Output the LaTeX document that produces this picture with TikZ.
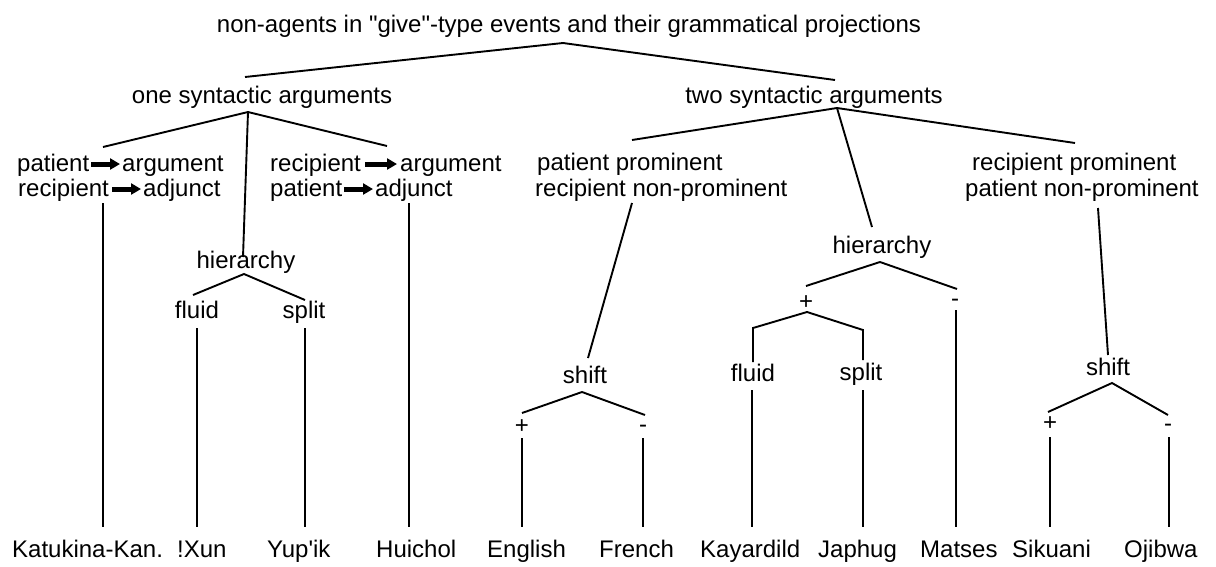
\documentclass[tikz,border=0pt]{standalone}
\usepackage{fontspec}
\setmainfont{Liberation Sans}[Ligatures=TeXOff]
\usetikzlibrary{arrows.meta,calc}
\begin{document}
\begin{tikzpicture}[x=1pt,y=-1pt,
  lbl/.style={inner sep=0pt, anchor=base, font=\fontsize{24}{28}\selectfont},
  lblw/.style={inner sep=0pt, anchor=base west, font=\fontsize{24}{28}\selectfont},
  sgn/.style={inner sep=0pt, anchor=center, font=\fontsize{24}{28}\selectfont},
  br/.style={line width=1.9pt},
  vl/.style={line width=1.5pt},
  fat/.style={line width=5pt,-{Triangle[length=10pt,width=11pt]}},
]
\useasboundingbox[fill=white] (0,0) rectangle (1216,566);
% level 0
\node[lbl] (title) at (569,32) {non-agents in "give"-type events and their grammatical projections};
\coordinate (t0) at (563,43);
\coordinate (t1) at (245,77);
\coordinate (t2) at (835,80);
\draw[br] (t1) -- (t0) -- (t2);
% level 1
\node[lbl] (one) at (262,103) {one syntactic arguments};
\node[lbl] (two) at (814,103) {two syntactic arguments};
% left subtree
\coordinate (o0) at (248,112);
\coordinate (o1) at (103,147);
\coordinate (o2) at (387,146);
\coordinate (o3) at (243,257);
\draw[br] (o1) -- (o0) -- (o2);
\draw[br] (o0) -- (o3);
\node[lblw] (pa1) at (17,171) {patient};
\node[lblw] (ar1) at (122,171) {argument};
\node[lblw] (re1) at (18,196) {recipient};
\node[lblw] (ad1) at (143,196) {adjunct};
\draw[fat] ($(pa1.base east)+(2,-7)$) -- ($(ar1.base west)+(-2,-7)$);
\draw[fat] ($(re1.base east)+(3,-7)$) -- ($(ad1.base west)+(-2,-7)$);
\node[lblw] (re2) at (270,171) {recipient};
\node[lblw] (ar2) at (400,171) {argument};
\node[lblw] (pa2) at (270,196) {patient};
\node[lblw] (ad2) at (375,196) {adjunct};
\draw[fat] ($(re2.base east)+(4,-7)$) -- ($(ar2.base west)+(-3,-7)$);
\draw[fat] ($(pa2.base east)+(2,-7)$) -- ($(ad2.base west)+(-2,-7)$);
% hierarchy left
\node[lbl] (hL) at (246,268) {hierarchy};
\coordinate (hL0) at (244,274);
\coordinate (hL1) at (193,295);
\coordinate (hL2) at (305,300);
\draw[br] (hL1) -- (hL0) -- (hL2);
\node[lbl] (fl1) at (197,318) {fluid};
\node[lbl] (sp1) at (304,318) {split};
% right subtree
\coordinate (w0) at (837,108);
\coordinate (w1) at (632,140);
\coordinate (w2) at (872,227);
\coordinate (w3) at (1075,143);
\draw[br] (w1) -- (w0) -- (w3);
\draw[br] (w0) -- (w2);
\node[lblw] (pp) at (537,170) {patient prominent};
\node[lblw] (rn) at (535,196) {recipient non-prominent};
\node[lblw] (rp) at (972,170) {recipient prominent};
\node[lblw] (pn) at (965,196) {patient non-prominent};
% shift left
\coordinate (g1) at (632,203);
\node[lbl] (sL) at (585,383) {shift};
\draw[br] (g1) -- (588,358);
\coordinate (sL0) at (582,392);
\coordinate (sL1) at (522,413);
\coordinate (sL2) at (645,415);
\draw[br] (sL1) -- (sL0) -- (sL2);
\node[sgn] (sLp) at (522,427) {+};
\node[sgn] (sLm) at (643,429) {-};
% hierarchy right
\node[lbl] (hR) at (882,253) {hierarchy};
\coordinate (hR0) at (880,262);
\coordinate (hR1) at (806,286);
\coordinate (hR2) at (957,289);
\draw[br] (hR1) -- (hR0) -- (hR2);
\node[sgn] (hRp) at (806,303) {+};
\node[sgn] (hRm) at (955,303) {-};
\coordinate (pl0) at (807,312);
\coordinate (pl1) at (753,328);
\coordinate (pl2) at (863,330);
\draw[br] (753,362) -- (pl1) -- (pl0) -- (pl2) -- (863,360);
\node[lbl] (fl2) at (753,381) {fluid};
\node[lbl] (sp2) at (861,380) {split};
% shift right
\coordinate (g2) at (1098,208);
\node[lbl] (sR) at (1108,375) {shift};
\draw[br] (g2) -- (1108,355);
\coordinate (sR0) at (1112,383);
\coordinate (sR1) at (1048,412);
\coordinate (sR2) at (1168,415);
\draw[br] (sR1) -- (sR0) -- (sR2);
\node[sgn] (sRp) at (1050,424) {+};
\node[sgn] (sRm) at (1168,428) {-};
% bottom labels
\node[lblw] (kat) at (12,557) {Katukina-Kan.};
\node[lblw] (xun) at (177,557) {!Xun};
\node[lblw] (yup) at (267,557) {Yup'ik};
\node[lblw] (hui) at (376,557) {Huichol};
\node[lblw] (eng) at (487,557) {English};
\node[lblw] (fre) at (599,557) {French};
\node[lblw] (kay) at (700,557) {Kayardild};
\node[lblw] (jap) at (818,557) {Japhug};
\node[lblw] (mat) at (920,557) {Matses};
\node[lblw] (sik) at (1012,557) {Sikuani};
\node[lblw] (oji) at (1124,557) {Ojibwa};
% verticals
\draw[vl] (103,203) -- (103,527);
\draw[vl] (409,203) -- (409,527);
\draw[vl] (197,328) -- (197,527);
\draw[vl] (305,328) -- (305,527);
\draw[vl] (522,438) -- (522,527);
\draw[vl] (643,438) -- (643,527);
\draw[vl] (752,390) -- (752,527);
\draw[vl] (863,390) -- (863,527);
\draw[vl] (956,310) -- (956,527);
\draw[vl] (1050,437) -- (1050,527);
\draw[vl] (1169,437) -- (1169,527);
\end{tikzpicture}
\end{document}
